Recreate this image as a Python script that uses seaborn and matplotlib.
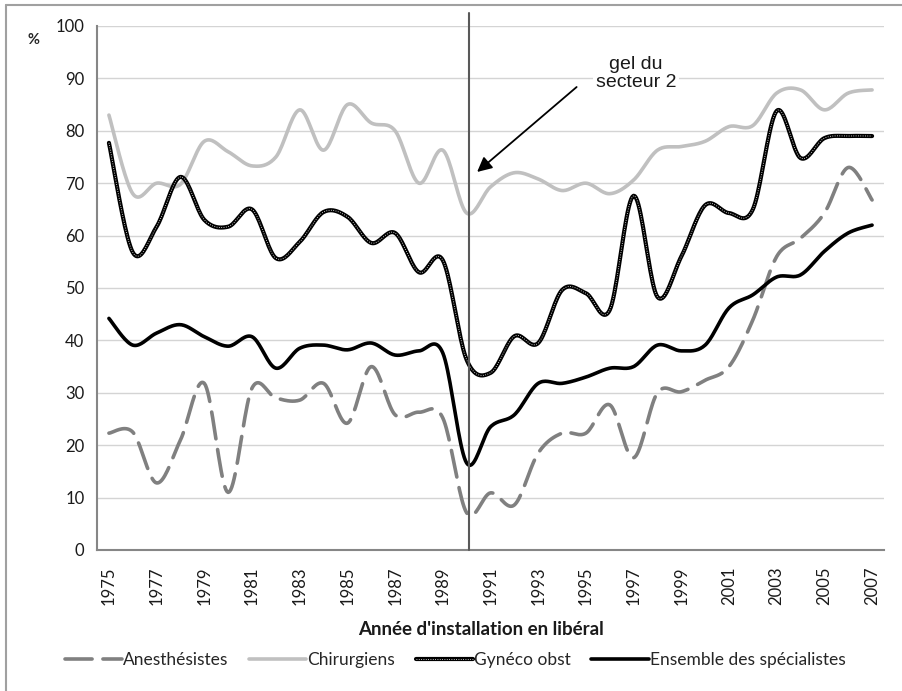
import numpy as np
import pandas as pd
import seaborn as sns
import matplotlib.pyplot as plt
from matplotlib.lines import Line2D

years = list(range(1975, 2008))

anesthesistes = [22.3, 22.5, 12.8, 21.0, 31.8, 11.0, 30.9, 29.0, 28.6, 31.8, 24.2,
                 35.0, 25.8, 26.3, 25.2, 7.1, 10.9, 8.6, 18.5, 22.3, 22.3, 27.7,
                 17.6, 30.0, 30.2, 32.4, 35.0, 43.9, 56.0, 59.5, 64.3, 73.0, 66.8]
chirurgiens = [83.0, 68.0, 70.0, 69.8, 78.0, 76.0, 73.3, 75.0, 84.0, 76.3, 85.0,
               81.5, 80.0, 70.0, 76.3, 64.3, 69.3, 72.0, 70.8, 68.6, 70.0, 68.0,
               70.6, 76.3, 77.0, 78.0, 80.8, 81.0, 87.2, 87.8, 84.0, 87.2, 87.8]
gyneco = [77.7, 56.8, 61.7, 71.2, 63.0, 61.7, 65.0, 55.7, 58.8, 64.5, 63.6,
          58.6, 60.5, 53.0, 55.3, 36.3, 33.8, 40.8, 39.5, 49.6, 49.0, 45.8,
          67.6, 48.3, 56.0, 65.8, 64.3, 65.0, 83.8, 74.8, 78.6, 79.0, 79.0]
ensemble = [44.2, 39.1, 41.4, 43.0, 40.7, 38.9, 40.7, 34.7, 38.5, 39.1, 38.2,
            39.5, 37.2, 38.0, 37.6, 16.6, 23.5, 25.8, 31.8, 31.8, 33.0, 34.7,
            35.0, 39.1, 38.0, 39.1, 46.2, 48.7, 52.1, 52.5, 57.0, 60.5, 62.0]

series_names = ['Anesthésistes', 'Chirurgiens', 'Gynéco obst', 'Ensemble des spécialistes']
tick_years = list(range(1975, 2008, 2))
event_year = 1990


def smooth(x, y, n=20):
    # Excel-like smoothed line (uniform Catmull-Rom / Bezier)
    x = np.asarray(x, float)
    y = np.asarray(y, float)
    px = np.concatenate([[x[0]], x, [x[-1]]])
    py = np.concatenate([[y[0]], y, [y[-1]]])
    xs, ys = [], []
    t = np.linspace(0, 1, n, endpoint=False)
    for i in range(1, len(px) - 2):
        p0, p1, p2, p3 = py[i - 1], py[i], py[i + 1], py[i + 2]
        q0, q1, q2, q3 = px[i - 1], px[i], px[i + 1], px[i + 2]
        c1y, c2y = p1 + (p2 - p0) / 6, p2 - (p3 - p1) / 6
        c1x, c2x = q1 + (q2 - q0) / 6, q2 - (q3 - q1) / 6
        b = [(1 - t) ** 3, 3 * (1 - t) ** 2 * t, 3 * (1 - t) * t ** 2, t ** 3]
        xs.append(b[0] * q1 + b[1] * c1x + b[2] * c2x + b[3] * q2)
        ys.append(b[0] * p1 + b[1] * c1y + b[2] * c2y + b[3] * p2)
    xs.append([x[-1]])
    ys.append([y[-1]])
    return np.concatenate(xs), np.concatenate(ys)


frames = []
for name, vals in zip(series_names, [anesthesistes, chirurgiens, gyneco, ensemble]):
    sx, sy = smooth(years, vals)
    frames.append(pd.DataFrame({'annee': sx, 'pct': sy, 'serie': name}))
df = pd.concat(frames, ignore_index=True)

sns.set_style('white')
plt.rcParams['font.family'] = ['Lato', 'DejaVu Sans']

fig = plt.figure(figsize=(9.02, 6.91), dpi=100)
ax = fig.add_axes([97 / 902, 141 / 691, 787 / 902, 524 / 691])

styles = {
    'Anesthésistes': dict(color='#808080', lw=2.6, dashes=(7.5, 3), dash_capstyle='round'),
    'Chirurgiens': dict(color='#c0c0c0', lw=2.6),
    'Gynéco obst': dict(color='black', lw=3.0),
    'Ensemble des spécialistes': dict(color='black', lw=2.6),
}
dots = dict(color='white', lw=0.6, linestyle=(0, (1, 1.8)))
for name in series_names:
    d = df[df.serie == name]
    sns.lineplot(data=d, x='annee', y='pct', ax=ax, sort=False, estimator=None,
                 legend=False, **styles[name])
    if name == 'Gynéco obst':
        sns.lineplot(data=d, x='annee', y='pct', ax=ax, sort=False, estimator=None,
                     legend=False, **dots)

ax.set_xlim(1974.5, 2007.5)
ax.set_ylim(0, 100)
ax.set_yticks(range(0, 101, 10))
ax.set_xticks(tick_years)
ax.set_xticklabels([str(y) for y in tick_years], rotation=90)
ax.set_xticks(np.arange(1974.5, 2008, 1), minor=True)
ax.tick_params(axis='x', which='major', length=0, pad=12, labelsize=12, labelcolor='#1a1a1a')
ax.tick_params(axis='x', which='minor', length=5, width=1.2, color='#868686', direction='out')
ax.tick_params(axis='y', length=5, width=1.2, color='#868686', direction='out', labelsize=12,
               labelcolor='#1a1a1a', pad=4)
ax.yaxis.grid(True, color='#d4d4d4', lw=1)
ax.set_axisbelow(True)
for s in ['top', 'right']:
    ax.spines[s].set_visible(False)
for s in ['left', 'bottom']:
    ax.spines[s].set_color('#868686')
    ax.spines[s].set_linewidth(1.5)

ax.set_ylabel('')
ax.set_xlabel("Année d'installation en libéral", fontsize=13.5, fontweight='bold', color='#1a1a1a')
ax.xaxis.set_label_coords((481 - 97) / 787, -0.136)

# vertical line at the freeze of secteur 2
ax.plot([event_year + 0.1, event_year + 0.1], [0, 102.5], color='#595959', lw=1.5,
        clip_on=False, zorder=5)
ax.annotate('', xy=(1990.35, 71.8), xytext=(1994.7, 88.7),
            arrowprops=dict(arrowstyle='-|>', color='black', lw=1.3, mutation_scale=22))
ax.text(1997.1, 90.9, 'gel du\nsecteur 2', ha='center', va='center', fontsize=14,
        family='Liberation Sans', color='#1a1a1a', linespacing=1.05,
        bbox=dict(facecolor='white', edgecolor='none', pad=2))

fig.text(33 / 902, 1 - 40 / 691, '%', fontsize=10.5, fontweight='bold', ha='center', va='center')

handles = [
    Line2D([], [], **styles['Anesthésistes']),
    Line2D([], [], **styles['Chirurgiens']),
    (Line2D([], [], color='black', lw=3.0), Line2D([], [], **dots)),
    Line2D([], [], **styles['Ensemble des spécialistes']),
]
fig.legend(handles, series_names, loc='center', bbox_to_anchor=(455 / 902, 1 - 660 / 691),
           ncol=4, frameon=False, fontsize=12.5, handlelength=3.3, handletextpad=0.05,
           columnspacing=1.2)

# outer frame (top and left edges visible)
fig.add_artist(Line2D([6 / 902, 1], [1 - 5 / 691, 1 - 5 / 691], color='#a0a0a0', lw=1.5))
fig.add_artist(Line2D([6 / 902, 6 / 902], [0, 1 - 5 / 691], color='#a0a0a0', lw=1.5))

fig.savefig('out.png', dpi=100)
